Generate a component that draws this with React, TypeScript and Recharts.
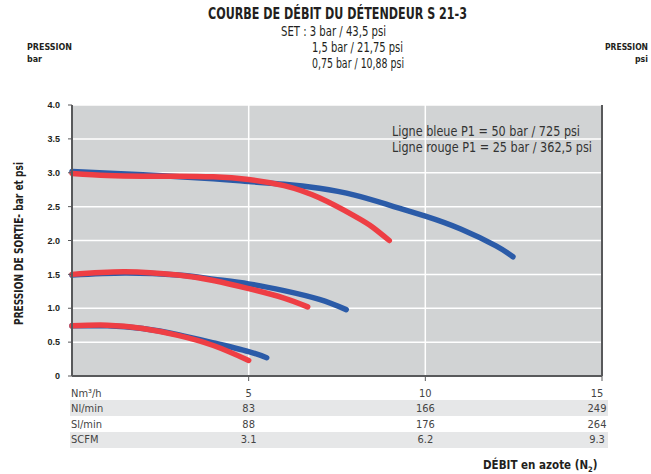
import React from "react";
import { LineChart, Line, XAxis, YAxis, CartesianGrid } from "recharts";

// flow (Nm3/h) vs outlet pressure (bar)
const blue30Flow = [0, 2, 4, 5, 6, 7, 8, 9, 10, 11, 12, 12.48];
const blue30Pres = [3.02, 2.97, 2.91, 2.87, 2.83, 2.77, 2.67, 2.52, 2.36, 2.17, 1.92, 1.76];
const red30Flow = [0, 1, 2, 3, 4, 5, 6, 7, 8, 8.5, 8.98];
const red30Pres = [2.99, 2.96, 2.95, 2.95, 2.94, 2.9, 2.81, 2.63, 2.36, 2.2, 2.0];

const blue15Flow = [0, 1.5, 3, 4, 5, 6, 7, 7.76];
const blue15Pres = [1.49, 1.52, 1.49, 1.43, 1.36, 1.26, 1.13, 0.98];
const red15Flow = [0, 1.5, 3, 4, 5, 6, 6.67];
const red15Pres = [1.5, 1.54, 1.49, 1.41, 1.29, 1.15, 1.02];

const blue075Flow = [0, 1, 2, 3, 4, 5, 5.51];
const blue075Pres = [0.74, 0.74, 0.7, 0.61, 0.49, 0.36, 0.27];
const red075Flow = [0, 1, 2, 3, 4, 5];
const red075Pres = [0.74, 0.75, 0.7, 0.6, 0.45, 0.23];

const barTicks = [0, 0.5, 1, 1.5, 2, 2.5, 3, 3.5, 4];
const barLabels = ["0", "0.5", "1.0", "1.5", "2.0", "2.5", "3.0", "3.5", "4.0"];
const psiTicks = [0, 7.25, 14.5, 21.75, 29, 36.25, 43.5, 50.75, 58];
const psiLabels = ["0", "7.25", "14.5", "21.75", "29", "36.25", "43.5", "50.75", "58 .0"];

const flowTicks = [5, 10, 15];
const rowNames = ["Nm³/h", "Nl/min", "Sl/min", "SCFM"];
const rowNm3h = ["5", "10", "15"];
const rowNlmin = ["83", "166", "249"];
const rowSlmin = ["88", "176", "264"];
const rowScfm = ["3.1", "6.2", "9.3"];

const BLUE = "#2b5ba8";
const RED = "#ee3e44";
const COND = "'Liberation Sans Narrow', 'DejaVu Sans Condensed', 'Roboto Condensed', sans-serif";
const ARIAL = "'Liberation Sans', Arial, sans-serif";
const INK = "#231f20";

const toData = (xs: number[], ys: number[]) => xs.map((x, i) => ({ x, y: ys[i] }));

const curves = [
  { key: "b30", color: BLUE, data: toData(blue30Flow, blue30Pres) },
  { key: "b15", color: BLUE, data: toData(blue15Flow, blue15Pres) },
  { key: "b075", color: BLUE, data: toData(blue075Flow, blue075Pres) },
  { key: "r30", color: RED, data: toData(red30Flow, red30Pres) },
  { key: "r15", color: RED, data: toData(red15Flow, red15Pres) },
  { key: "r075", color: RED, data: toData(red075Flow, red075Pres) },
];

const rowOffsets = [14, 29, 45, 60];

function FlowTick(props: any) {
  const { x, y, payload, index } = props;
  const rows = [rowNm3h, rowNlmin, rowSlmin, rowScfm];
  const dx = index === 2 ? -5 : 0;
  return (
    <g>
      {rows.map((r, i) => (
        <text
          key={i}
          x={x + dx}
          y={y + rowOffsets[i]}
          textAnchor="middle"
          fontFamily={COND}
          fontSize={11}
          fill="#444"
        >
          {r[index] ?? payload.value}
        </text>
      ))}
    </g>
  );
}

// condensed text squeezed to the width measured on the reference
function CText({ x, y, w, size, bold, anchor, fill, children }: any) {
  return (
    <text
      x={x}
      y={y}
      textLength={w}
      lengthAdjust="spacingAndGlyphs"
      textAnchor={anchor || "start"}
      fontFamily={COND}
      fontWeight={bold ? "bold" : "normal"}
      fontSize={size}
      fill={fill || INK}
    >
      {children}
    </text>
  );
}

export default function App() {
  return (
    <div style={{ position: "absolute", left: 0, top: 0, width: 651, height: 474, background: "#fff" }}>
      <svg width={651} height={474} style={{ position: "absolute", left: 0, top: 0 }}>
        <rect x={70} y={400} width={538} height={16} fill="#e6e7e8" />
        <rect x={70} y={432} width={538} height={16} fill="#e6e7e8" />
        {rowNames.map((n, i) => (
          <text key={n} x={71} y={376 + 7 + rowOffsets[i]} fontFamily={COND} fontSize={11} fill="#444">
            {n}
          </text>
        ))}
        <CText x={208} y={19} w={259} size={15.5} bold>COURBE DE DÉBIT DU DÉTENDEUR S 21-3</CText>
        <CText x={281} y={36} w={105} size={14}>SET : 3 bar / 43,5 psi</CText>
        <CText x={312} y={52} w={91} size={14}>1,5 bar / 21,75 psi</CText>
        <CText x={312} y={68} w={92} size={14}>0,75 bar / 10,88 psi</CText>
        <CText x={27} y={50} w={45} size={9} bold>PRESSION</CText>
        <CText x={27} y={62} w={15} size={9} bold>bar</CText>
        <CText x={605} y={50} w={43} size={8.5} bold>PRESSION</CText>
        <CText x={635} y={62} w={13} size={8.5} bold>psi</CText>
        <g transform="translate(23,243.5) rotate(-90)">
          <CText x={0} y={0} w={163} size={12.5} bold anchor="middle">PRESSION DE SORTIE- bar et psi</CText>
        </g>
        <text x={483} y={469} fontFamily={COND} fontWeight="bold" fontSize={11.5} fill={INK}>
          DÉBIT en azote (N<tspan fontSize={7.5} dy={3}>2</tspan>
          <tspan dy={-3}>)</tspan>
        </text>
      </svg>
      <div style={{ position: "absolute", left: 0, top: 0 }}>
        <LineChart width={651} height={474} margin={{ top: 105, right: 9, bottom: 78, left: 42 }}>
          <CartesianGrid
            fill="#d1d3d4"
            stroke="#ffffff"
            strokeWidth={1.5}
            strokeDasharray=""
            verticalPoints={[248.7, 425.3]}
            yAxisId="bar"
          />
          <XAxis
            dataKey="x"
            type="number"
            domain={[0, 15]}
            ticks={flowTicks}
            allowDuplicatedCategory={false}
            height={20}
            tickSize={5}
            tick={<FlowTick />}
            axisLine={{ stroke: "#58595b", strokeWidth: 2 }}
            tickLine={{ stroke: "#58595b" }}
          />
          <YAxis
            yAxisId="bar"
            type="number"
            domain={[0, 4]}
            ticks={barTicks}
            width={30}
            tickSize={4}
            tickMargin={8}
            tickFormatter={(v: number) => barLabels[barTicks.indexOf(v)]}
            tick={{ fontFamily: ARIAL, fontWeight: "bold", fontSize: 9, fill: INK }}
            axisLine={{ stroke: "#58595b", strokeWidth: 2 }}
            tickLine={{ stroke: "#58595b" }}
          />
          <YAxis
            yAxisId="psi"
            orientation="right"
            type="number"
            domain={[0, 58]}
            ticks={psiTicks}
            width={40}
            tickSize={4}
            tickMargin={6}
            tickFormatter={(v: number) => psiLabels[psiTicks.indexOf(v)]}
            tick={{ fontFamily: ARIAL, fontWeight: "bold", fontSize: 9, fill: INK, textAnchor: "start" }}
            axisLine={{ stroke: "#58595b", strokeWidth: 2 }}
            tickLine={{ stroke: "#58595b" }}
          />
          {curves.map((c) => (
            <Line
              key={c.key}
              yAxisId="bar"
              data={c.data}
              dataKey="y"
              type="natural"
              stroke={c.color}
              strokeWidth={5.5}
              strokeLinecap="round"
              dot={false}
              activeDot={false}
              isAnimationActive={false}
            />
          ))}
        </LineChart>
      </div>
      <svg width={651} height={474} style={{ position: "absolute", left: 0, top: 0, pointerEvents: "none" }}>
        <CText x={392} y={136} w={188} size={14.5} fill="#333">Ligne bleue P1 = 50 bar / 725 psi</CText>
        <CText x={392} y={152} w={200} size={14.5} fill="#333">Ligne rouge P1 = 25 bar / 362,5 psi</CText>
      </svg>
    </div>
  );
}
